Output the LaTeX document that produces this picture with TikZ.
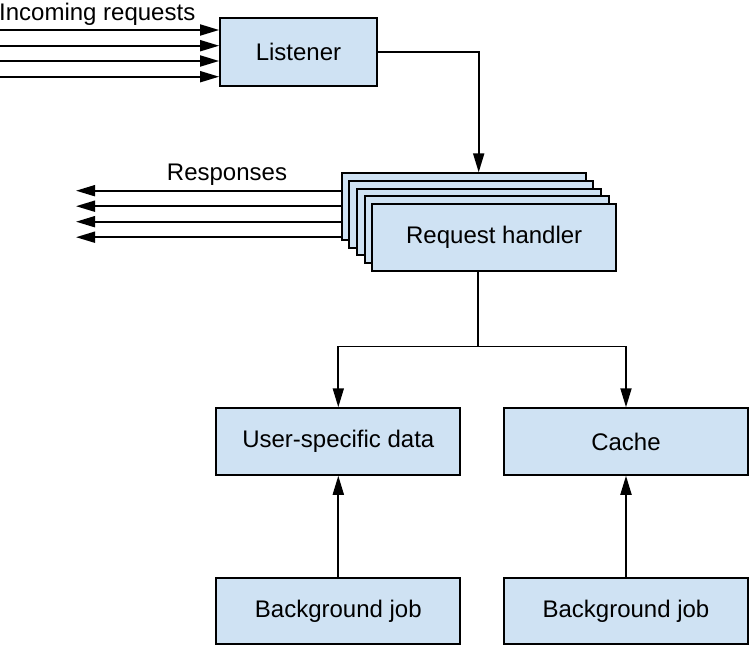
\documentclass[tikz,border=0pt]{standalone}
\usepackage{fontspec}
\setmainfont{Liberation Sans}
\usetikzlibrary{arrows.meta}
\definecolor{boxblue}{HTML}{CFE2F3}
\begin{document}
\begin{tikzpicture}[x=1pt,y=-1pt,
  txt/.style={font=\fontsize{24}{28}\selectfont, inner sep=0pt},
  box/.style={draw=black, fill=boxblue, line width=1.8pt, inner sep=0pt,
    font=\fontsize{24}{28}\selectfont, minimum width=244pt, minimum height=66.7pt},
  conn/.style={line width=1.8pt},
  arr/.style={line width=1.8pt, -{Triangle[length=19pt,width=11pt]}}]
\useasboundingbox (0,0) rectangle (750,647);

% labels
\node[txt, anchor=base west] (inc) at (-1,21) {Incoming requests};
\node[txt, anchor=base] (resp) at (227,181) {Responses};

% listener
\node[box, minimum width=157pt, minimum height=68pt] (listener) at (298.5,52) {Listener};

% request handler stack
\node[box] (h1) at (463.7,206.6) {};
\node[box] (h2) at (471.3,214.3) {};
\node[box] (h3) at (479.0,222.0) {};
\node[box] (h4) at (486.6,229.6) {};
\node[box] (h5) at (494.2,237.3) {Request handler};

% lower boxes
\node[box] (user)  at (338.3,441.5) {User-specific data};
\node[box] (cache) at (626.0,441.5) {Cache};
\node[box] (bg1)   at (338.3,611.0) {Background job};
\node[box] (bg2)   at (626.0,611.0) {Background job};

% incoming arrows
\coordinate (in1) at (0,30);
\coordinate (in2) at (0,45.7);
\coordinate (in3) at (0,61);
\coordinate (in4) at (0,76.7);
\foreach \c in {in1,in2,in3,in4}
  \draw[arr] (\c) -- (\c -| listener.west);

% listener to handler
\coordinate (hin) at (478.7,0);
\draw[arr] (listener.east) -| (hin |- h1.north);

% responses
\coordinate (out1) at (76,190.7);
\coordinate (out2) at (76,206.2);
\coordinate (out3) at (76,221.7);
\coordinate (out4) at (76,237.2);
\foreach \c in {out1,out2,out3,out4}
  \draw[arr] (\c -| h1.west) -- (\c);

% handler to data boxes
\coordinate (split) at (478.3,346.5);
\draw[conn] (split |- h5.south) -- (split);
\draw[arr] (split) -| (user.north);
\draw[arr] (split) -| (cache.north);

% background jobs
\draw[arr] (bg1.north) -- (user.south);
\draw[arr] (bg2.north) -- (cache.south);
\end{tikzpicture}
\end{document}
